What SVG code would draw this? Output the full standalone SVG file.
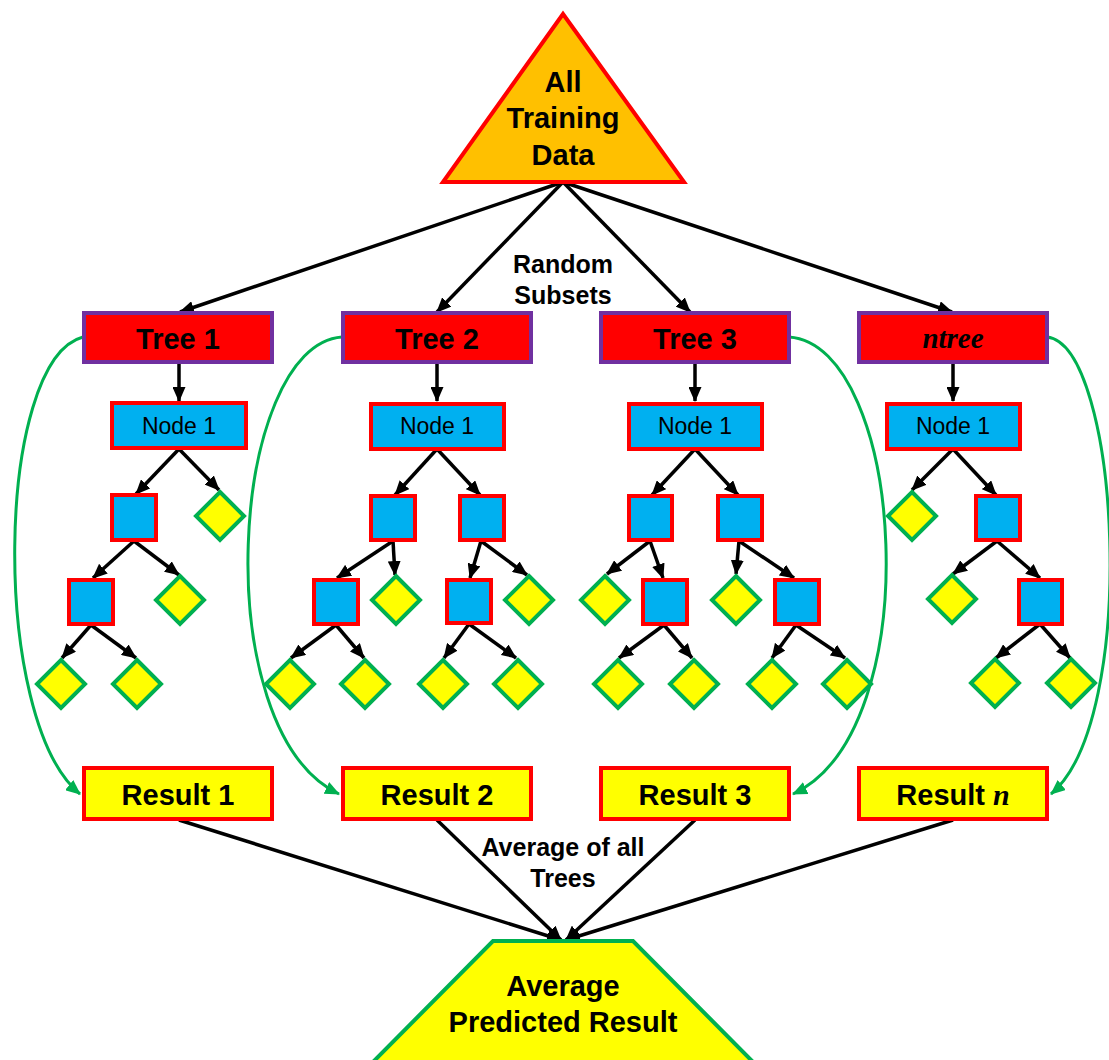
<svg xmlns="http://www.w3.org/2000/svg" width="1109" height="1060" viewBox="0 0 1109 1060">
<defs>
<marker id="ab" markerWidth="15" markerHeight="13" refX="14" refY="6.5" orient="auto" markerUnits="userSpaceOnUse"><path d="M0,0 L15,6.5 L0,13 z" fill="#000"/></marker>
<marker id="ag" markerWidth="15" markerHeight="13" refX="14" refY="6.5" orient="auto" markerUnits="userSpaceOnUse"><path d="M0,0 L15,6.5 L0,13 z" fill="#00B050"/></marker>
</defs>
<style>
.tree{fill:#FF0000;stroke:#7030A0;stroke-width:4}
.node{fill:#00B0F0;stroke:#FF0000;stroke-width:4}
.leaf{fill:#FFFF00;stroke:#00B050;stroke-width:4}
.res{fill:#FFFF00;stroke:#FF0000;stroke-width:4}
.b{stroke:#000;stroke-width:3.5;fill:none;marker-end:url(#ab)}
.g{stroke:#00B050;stroke-width:3;fill:none;marker-end:url(#ag)}
text{font-family:"Liberation Sans",Arial,sans-serif;text-anchor:middle;fill:#000}
.big{font-size:29px;font-weight:bold}
.tt{font-size:29px;font-weight:bold}
.nt{font-size:23px}
.lab{font-size:25px;font-weight:bold}
</style>
<g id="connectors">
<line class="b" x1="563" y1="182" x2="180" y2="312"/>
<line class="b" x1="563" y1="182" x2="437" y2="312"/>
<line class="b" x1="563" y1="182" x2="690" y2="312"/>
<line class="b" x1="563" y1="182" x2="952" y2="312"/>
<line class="b" x1="179" y1="363" x2="179" y2="401"/>
<line class="b" x1="437" y1="363" x2="437" y2="401"/>
<line class="b" x1="695" y1="363" x2="695" y2="401"/>
<line class="b" x1="953" y1="363" x2="953" y2="401"/>
<!-- tree1 -->
<line class="b" x1="179" y1="449" x2="136" y2="494"/>
<line class="b" x1="179" y1="449" x2="219" y2="490"/>
<line class="b" x1="134" y1="541" x2="93" y2="578"/>
<line class="b" x1="134" y1="541" x2="179" y2="575"/>
<line class="b" x1="91" y1="625" x2="62" y2="658"/>
<line class="b" x1="91" y1="625" x2="136" y2="658"/>
<!-- tree2 -->
<line class="b" x1="437" y1="449" x2="395" y2="495"/>
<line class="b" x1="437" y1="449" x2="480" y2="495"/>
<line class="b" x1="393" y1="541" x2="337" y2="578"/>
<line class="b" x1="393" y1="541" x2="395" y2="575"/>
<line class="b" x1="481" y1="541" x2="470" y2="578"/>
<line class="b" x1="481" y1="541" x2="527" y2="575"/>
<line class="b" x1="336" y1="625" x2="291" y2="658"/>
<line class="b" x1="336" y1="625" x2="364" y2="658"/>
<line class="b" x1="469" y1="624" x2="444" y2="658"/>
<line class="b" x1="469" y1="624" x2="516" y2="658"/>
<!-- tree3 -->
<line class="b" x1="695" y1="449" x2="652" y2="495"/>
<line class="b" x1="695" y1="449" x2="738" y2="495"/>
<line class="b" x1="650" y1="541" x2="607" y2="574"/>
<line class="b" x1="650" y1="541" x2="663" y2="578"/>
<line class="b" x1="739" y1="541" x2="736" y2="574"/>
<line class="b" x1="739" y1="541" x2="794" y2="578"/>
<line class="b" x1="664" y1="625" x2="619" y2="658"/>
<line class="b" x1="664" y1="625" x2="692" y2="658"/>
<line class="b" x1="796" y1="625" x2="772" y2="658"/>
<line class="b" x1="796" y1="625" x2="845" y2="658"/>
<!-- ntree -->
<line class="b" x1="953" y1="449" x2="912" y2="490"/>
<line class="b" x1="953" y1="449" x2="996" y2="495"/>
<line class="b" x1="997" y1="541" x2="953" y2="574"/>
<line class="b" x1="997" y1="541" x2="1040" y2="578"/>
<line class="b" x1="1040" y1="624" x2="996" y2="658"/>
<line class="b" x1="1040" y1="624" x2="1070" y2="658"/>
<!-- green curves -->
<path class="g" d="M83,337 C-5,360 -10,720 80,794"/>
<path class="g" d="M342,337 C230,345 205,730 339,794"/>
<path class="g" d="M789,337 C905,345 930,730 793,794"/>
<path class="g" d="M1047,337 C1120,345 1140,720 1051,794"/>
<!-- results to average -->
<line class="b" x1="179" y1="820" x2="561" y2="940"/>
<line class="b" x1="437" y1="820" x2="561" y2="940"/>
<line class="b" x1="695" y1="820" x2="566" y2="940"/>
<line class="b" x1="953" y1="820" x2="566" y2="940"/>
</g>
<g id="all-training-data">
<polygon points="563,14 684,182 443,182" fill="#FFC000" stroke="#FF0000" stroke-width="4"/>
<text class="big" x="563" y="92">All</text>
<text class="big" x="563" y="128">Training</text>
<text class="big" x="563" y="165">Data</text>
</g>
<g id="label-random"><text class="lab" x="563" y="273">Random</text><text class="lab" x="563" y="304">Subsets</text></g>
<g id="tree1"><rect class="tree" x="84" y="313" width="188" height="49"/><text class="tt" x="178" y="349">Tree 1</text></g>
<g id="tree2"><rect class="tree" x="343" y="313" width="188" height="49"/><text class="tt" x="437" y="349">Tree 2</text></g>
<g id="tree3"><rect class="tree" x="601" y="313" width="188" height="49"/><text class="tt" x="695" y="349">Tree 3</text></g>
<g id="ntree"><rect class="tree" x="859" y="313" width="188" height="49"/><text x="953" y="348" style="font-family:'Liberation Serif','Times New Roman',serif;font-size:29px;font-weight:bold;font-style:italic">ntree</text></g>
<g id="node1-t1"><rect class="node" x="112" y="403" width="134" height="45"/><text class="nt" x="179" y="434">Node 1</text></g>
<g id="node1-t2"><rect class="node" x="371" y="404" width="133" height="45"/><text class="nt" x="437" y="434">Node 1</text></g>
<g id="node1-t3"><rect class="node" x="629" y="404" width="133" height="45"/><text class="nt" x="695" y="434">Node 1</text></g>
<g id="node1-tn"><rect class="node" x="887" y="404" width="133" height="45"/><text class="nt" x="953" y="434">Node 1</text></g>
<g id="t1-nodes">
<rect class="node" x="112" y="495" width="44" height="45"/>
<rect class="node" x="69" y="580" width="44" height="44"/>
<polygon class="leaf" points="220,492 244,516 220,540 196,516"/>
<polygon class="leaf" points="180,576 204,600 180,624 156,600"/>
<polygon class="leaf" points="61,660 85,684 61,708 37,684"/>
<polygon class="leaf" points="137,660 161,684 137,708 113,684"/>
</g>
<g id="t2-nodes">
<rect class="node" x="371" y="496" width="44" height="44"/>
<rect class="node" x="460" y="496" width="44" height="44"/>
<rect class="node" x="314" y="580" width="44" height="44"/>
<rect class="node" x="447" y="580" width="44" height="43"/>
<polygon class="leaf" points="396,576 420,600 396,624 372,600"/>
<polygon class="leaf" points="529,576 553,600 529,624 505,600"/>
<polygon class="leaf" points="290,660 314,684 290,708 266,684"/>
<polygon class="leaf" points="365,660 389,684 365,708 341,684"/>
<polygon class="leaf" points="443,660 467,684 443,708 419,684"/>
<polygon class="leaf" points="518,660 542,684 518,708 494,684"/>
</g>
<g id="t3-nodes">
<rect class="node" x="629" y="496" width="43" height="44"/>
<rect class="node" x="718" y="496" width="44" height="44"/>
<rect class="node" x="643" y="580" width="44" height="44"/>
<rect class="node" x="775" y="580" width="44" height="44"/>
<polygon class="leaf" points="605,576 629,600 605,624 581,600"/>
<polygon class="leaf" points="736,576 760,600 736,624 712,600"/>
<polygon class="leaf" points="618,660 642,684 618,708 594,684"/>
<polygon class="leaf" points="694,660 718,684 694,708 670,684"/>
<polygon class="leaf" points="772,660 796,684 772,708 748,684"/>
<polygon class="leaf" points="847,660 871,684 847,708 823,684"/>
</g>
<g id="tn-nodes">
<rect class="node" x="976" y="496" width="44" height="44"/>
<rect class="node" x="1019" y="580" width="43" height="44"/>
<polygon class="leaf" points="912,492 936,516 912,540 888,516"/>
<polygon class="leaf" points="952,575 976,599 952,623 928,599"/>
<polygon class="leaf" points="995,659 1019,683 995,707 971,683"/>
<polygon class="leaf" points="1071,659 1095,683 1071,707 1047,683"/>
</g>
<g id="result1"><rect class="res" x="84" y="768" width="188" height="51"/><text class="tt" x="178" y="805">Result 1</text></g>
<g id="result2"><rect class="res" x="343" y="768" width="188" height="51"/><text class="tt" x="437" y="805">Result 2</text></g>
<g id="result3"><rect class="res" x="601" y="768" width="188" height="51"/><text class="tt" x="695" y="805">Result 3</text></g>
<g id="resultn"><rect class="res" x="859" y="768" width="188" height="51"/><text class="tt" x="953" y="805">Result <tspan style="font-family:'Liberation Serif','Times New Roman',serif;font-style:italic;font-size:30px">n</tspan></text></g>
<g id="label-average"><text class="lab" x="563" y="856">Average of all</text><text class="lab" x="563" y="887">Trees</text></g>
<g id="average-predicted-result">
<polygon points="493,941 633,941 755,1064 371,1064" fill="#FFFF00" stroke="#00B050" stroke-width="4"/>
<text class="big" x="563" y="996">Average</text>
<text class="big" x="563" y="1032">Predicted Result</text>
</g>
</svg>
